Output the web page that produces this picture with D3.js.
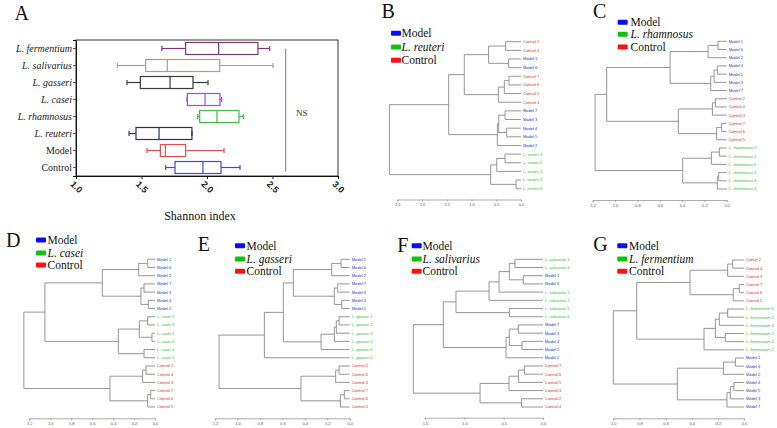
<!DOCTYPE html>
<html><head><meta charset="utf-8">
<script src="https://cdn.jsdelivr.net/npm/d3@7"></script>
<style>body{margin:0;background:#fff}svg{display:block}
.serif{font-family:"Liberation Serif","Times New Roman","DejaVu Serif",serif}
.sans{font-family:"Liberation Sans",Arial,"DejaVu Sans",sans-serif}
</style>
</head><body>
<svg id="c" width="777" height="428"></svg>
<script>
// ---------- Panel A data ----------
const boxCats = ["L. fermentium","L. salivarius","L. gasseri","L. casei","L. rhamnosus","L. reuteri","Model","Control"];
const boxLo  = [1.656,1.316,1.389,1.847,1.929,1.405,1.542,1.684];
const boxQ1  = [1.837,1.532,1.491,1.850,1.944,1.458,1.644,1.756];
const boxMed = [2.089,1.697,1.718,1.985,2.076,1.634,1.682,1.969];
const boxQ3  = [2.389,2.097,1.893,2.099,2.244,1.885,1.837,2.107];
const boxHi  = [2.478,2.504,2.008,2.112,2.277,1.885,2.130,2.252];
const xTicksA = [1.0,1.5,2.0,2.5,3.0];

// ---------- Dendrogram data: [height, child, child] ; leaves are strings ----------
const treeB = [2.66,
  [1.462,
    [1.146,
      [0.654,[0.31,"Control 2","Control 4"],[0.25,"Model 1","Model 6"]],
      [0.458,[0.337,[0.243,"Control 7","Control 6"],"Control 5"],"Control 3"]],
    [0.478,[0.45,[0.323,"Model 7","Model 3"],[0.29,"Model 4","Model 5"]],"Model 2"]],
  [0.613,[0.49,[0.323,"L. reuteri 4","L. reuteri 2"],"L. reuteri 1"],[0.10,"L. reuteri 5","L. reuteri 6"]]];
const treeC = [1.179,
  [1.075,
    [0.507,[0.167,[0.078,"Model 1","Model 6"],"Model 2"],[0.143,[0.113,[0.084,"Model 4","Model 5"],"Model 3"],"Model 7"]],
    [0.433,[0.128,[0.101,"Control 2","Control 4"],"Control 3"],[0.09,[0.045,"Control 7","Control 6"],"Control 5"]]],
  [0.394,[0.137,[0.066,"L. rhamnosus 2","L. rhamnosus 1"],"L. rhamnosus 6"],[0.084,[0.072,"L. rhamnosus 5","L. rhamnosus 4"],"L. rhamnosus 3"]]];
const treeD = [1.252,
  [1.051,
    [0.503,[0.156,[0.07,"Model 1","Model 6"],"Model 2"],[0.134,[0.105,"Model 7","Model 3"],[0.064,"Model 4","Model 5"]]],
    [0.35,[0.15,[0.07,"L. casei 2","L. casei 3"],[0.029,"L. casei 1","L. casei 6"]],[0.105,"L. casei 4","L. casei 5"]]],
  [0.43,[0.118,[0.086,"Control 2","Control 4"],"Control 3"],[0.07,[0.041,"Control 7","Control 6"],"Control 5"]]];
const treeE = [1.164,
  [0.76,
    [0.591,
      [0.502,[0.16,[0.077,"Model 1","Model 6"],"Model 2"],[0.137,[0.107,"Model 7","Model 3"],[0.071,"Model 4","Model 5"]]],
      [0.255,[0.137,[0.119,[0.095,"L. gasseri 1","L. gasseri 2"],"L. gasseri 3"],"L. gasseri 4"],"L. gasseri 6"]],
    "L. gasseri 5"],
  [0.434,[0.125,[0.095,"Control 2","Control 4"],"Control 3"],[0.083,[0.048,"Control 7","Control 6"],"Control 5"]]];
const treeF = [1.648,
  [1.267,
    [1.106,
      [0.686,[0.559,[0.428,[0.356,"L. salivarius 3","L. salivarius 4"],[0.25,"Model 1","Model 6"]],"L. salivarius 1"],"L. salivarius 2"],
      [0.428,"L. salivarius 5","L. salivarius 6"]],
    [0.47,[0.428,[0.314,"Model 7","Model 3"],[0.267,"Model 4","Model 5"]],"Model 2"]],
  [0.80,[0.432,[0.314,[0.237,"Control 7","Control 6"],"Control 5"],"Control 3"],[0.275,"Control 2","Control 4"]]];
const treeG = [1.0,
  [0.821,
    [0.413,[0.125,[0.087,"Contol 2","Control 4"],"Control 3"],[0.082,[0.036,"Control 7","Control 6"],"Control 5"]],
    [0.306,[0.219,[0.189,[0.125,"L. fermentium 6","L. fermentium 5"],"L. fermentium 3"],[0.143,"L. fermentium 2","L. fermentium 4"]],"L. fermentium 1"]],
  [0.51,[0.158,[0.066,"Model 1","Model 6"],"Model 2"],[0.13,[0.105,[0.077,"Model 4","Model 5"],"Model 3"],"Model 7"]]];

const ticksB = [2.5,2.0,1.5,1.0,0.5,0.0];
const ticksC = [1.2,1.0,0.8,0.6,0.4,0.2,0.0];
const ticksD = [1.2,1.0,0.8,0.6,0.4,0.2,0.0];
const ticksE = [1.2,1.0,0.8,0.6,0.4,0.2,0.0];
const ticksF = [1.5,1.0,0.5,0.0];
const ticksG = [1.0,0.8,0.6,0.4,0.2,0.0];

const legendB = ["Model","L. reuteri","Control"];
const legendC = ["Model","L. rhamnosus","Control"];
const legendD = ["Model","L. casei","Control"];
const legendE = ["Model","L. gasseri","Control"];
const legendF = ["Model","L. salivarius","Control"];
const legendG = ["Model","L. fermentium","Control"];

// ---------- styles ----------
const boxColors = ["#7b3a6f","#b99b78","#3a3a3a","#b040e0","#3fc040","#2b2b86","#e05050","#4646d6"];
const grpColor = {Model:"#2a2ae6", L:"#2fc22f", Control:"#e62a2a"};
const swColor = ["#0a0aff","#10c010","#ff1010"];

const svg = d3.select("#c");
svg.append("rect").attr("width",777).attr("height",428).attr("fill","#fff");

// ---------- Panel A ----------
(function(){
  const g = svg.append("g");
  const x = d3.scaleLinear().domain([1,3]).range([76,338]);
  const y = d3.scaleBand().domain(boxCats).range([40,176]);
  const bh = 12;
  g.append("rect").attr("x",x(1)).attr("y",40).attr("width",x(3)-x(1)).attr("height",136)
    .attr("fill","none").attr("stroke","#333").attr("stroke-width",1);
  const ax = d3.axisBottom(x).tickValues(xTicksA).tickSize(3).tickFormat(d3.format(".1f"));
  const axg = g.append("g").attr("transform","translate(0,176)").call(ax);
  axg.attr("font-family",null);
  axg.select(".domain").attr("stroke","#111");
  axg.selectAll(".tick line").attr("stroke","#111");
  axg.selectAll(".tick text").attr("class","sans").attr("font-weight","bold").attr("font-size",9)
    .attr("fill","#222").attr("text-anchor","middle").attr("y",0).attr("dy","0.35em")
    .attr("transform","translate(0,11) rotate(45)");
  const ay = d3.axisLeft(y).tickSize(3).tickPadding(1);
  const ayg = g.append("g").attr("transform",`translate(${x(1)},0)`).call(ay);
  ayg.attr("font-family",null);
  ayg.select(".domain").attr("stroke","#111");
  ayg.selectAll(".tick line").attr("stroke","#555");
  ayg.selectAll(".tick text").attr("class","serif").attr("font-size",10).attr("fill","#222")
    .attr("font-style",d=>d.startsWith("L.")?"italic":"normal");
  boxCats.forEach((c,i)=>{
    const cy = y(c)+y.bandwidth()/2, col = boxColors[i];
    const bg = g.append("g").attr("stroke",col).attr("stroke-width",1.2).attr("fill","none");
    bg.append("line").attr("x1",x(boxLo[i])).attr("x2",x(boxQ1[i])).attr("y1",cy).attr("y2",cy);
    bg.append("line").attr("x1",x(boxQ3[i])).attr("x2",x(boxHi[i])).attr("y1",cy).attr("y2",cy);
    bg.append("line").attr("x1",x(boxLo[i])).attr("x2",x(boxLo[i])).attr("y1",cy-2.5).attr("y2",cy+2.5);
    bg.append("line").attr("x1",x(boxHi[i])).attr("x2",x(boxHi[i])).attr("y1",cy-2.5).attr("y2",cy+2.5);
    bg.append("rect").attr("x",x(boxQ1[i])).attr("y",cy-bh/2).attr("width",x(boxQ3[i])-x(boxQ1[i])).attr("height",bh);
    bg.append("line").attr("x1",x(boxMed[i])).attr("x2",x(boxMed[i])).attr("y1",cy-bh/2).attr("y2",cy+bh/2);
  });
  g.append("line").attr("x1",285.7).attr("x2",285.7).attr("y1",48.7).attr("y2",171.7).attr("stroke","#777").attr("stroke-width",1);
  g.append("text").attr("class","serif").attr("x",301.7).attr("y",116).attr("text-anchor","middle")
    .attr("font-size",9).attr("fill","#333").text("NS");
  g.append("text").attr("class","serif").attr("x",200).attr("y",220).attr("text-anchor","middle")
    .attr("font-size",12).attr("fill","#111").text("Shannon index");
  g.append("text").attr("class","serif").attr("x",14.5).attr("y",20).attr("font-size",20).attr("fill","#111").text("A");
})();

// ---------- dendrogram helper ----------
function toObj(n){ return typeof n === "string" ? {name:n,h:0} : {h:n[0],children:n.slice(1).map(toObj)}; }
function dendro(tree, ticks, legend, o){
  const g = svg.append("g");
  const root = d3.hierarchy(toObj(tree));
  const leaves = root.leaves();
  const x = d3.scaleLinear().domain([0,o.hMax]).range([o.x0,o.x1]);
  const y = d3.scalePoint().domain(d3.range(leaves.length)).range([o.yTop,o.yBot]);
  leaves.forEach((d,i)=>{ d.py = y(i); });
  root.eachAfter(d=>{ if(d.children) d.py = (d.children[0].py + d.children[d.children.length-1].py)/2; });
  const lg = g.append("g").attr("stroke","#8a8a8a").attr("stroke-width",0.9).attr("fill","none");
  root.each(d=>{
    if(!d.children) return;
    const px = x(d.data.h);
    lg.append("line").attr("x1",px).attr("x2",px).attr("y1",d.children[0].py).attr("y2",d.children[d.children.length-1].py);
    d.children.forEach(c=>{
      lg.append("line").attr("x1",px).attr("x2",x(c.data.h)).attr("y1",c.py).attr("y2",c.py);
    });
  });
  g.selectAll("text.leaf").data(leaves).join("text").attr("class","leaf sans")
    .attr("x",x(0)+2).attr("y",d=>d.py).attr("dy","0.35em").attr("font-size",4)
    .attr("fill",d=>{const n=d.data.name; return n.startsWith("Model")?grpColor.Model:n.startsWith("L.")?grpColor.L:grpColor.Control;})
    .text(d=>d.data.name);
  const ax = d3.axisBottom(x).tickValues(ticks).tickSize(2).tickPadding(2).tickFormat(d3.format(".1f"));
  const axg = g.append("g").attr("transform",`translate(0,${o.axisY})`).call(ax);
  axg.attr("font-family",null);
  axg.select(".domain").attr("stroke","#999").attr("stroke-width",0.8);
  axg.selectAll(".tick line").attr("stroke","#999").attr("stroke-width",0.8);
  axg.selectAll(".tick text").attr("class","sans").attr("font-size",4).attr("fill","#555");
  g.append("text").attr("class","serif").attr("x",o.lx).attr("y",o.ly).attr("font-size",20).attr("fill","#111").text(o.letter);
  legend.forEach((t,i)=>{
    const cy = o.legY[i];
    g.append("rect").attr("x",o.swX).attr("y",cy-2.5).attr("width",10).attr("height",5).attr("rx",1).attr("fill",swColor[i]);
    g.append("text").attr("class","serif").attr("x",o.txX).attr("y",cy+4).attr("font-size",11.5)
      .attr("font-style",t.startsWith("L.")?"italic":"normal").attr("fill","#111").text(t);
  });
}

dendro(treeB, ticksB, legendB, {hMax:2.5,x0:521,x1:397.3,yTop:41.7,yBot:188.7,axisY:199.5,
  letter:"B",lx:381.5,ly:18.3,swX:391,txX:401.5,legY:[33.3,47,60.3]});
dendro(treeC, ticksC, legendC, {hMax:1.2,x0:726.7,x1:592.7,yTop:41.3,yBot:189,axisY:200,
  letter:"C",lx:593,ly:18.3,swX:617.7,txX:630.5,legY:[22.3,34.3,47]});
dendro(treeD, ticksD, legendD, {hMax:1.2,x0:155,x1:29.3,yTop:259.3,yBot:407,axisY:418.3,
  letter:"D",lx:6,ly:247.3,swX:36,txX:47.5,legY:[240,253,265]});
dendro(treeE, ticksE, legendE, {hMax:1.2,x0:349.7,x1:215,yTop:259.3,yBot:407,axisY:418.3,
  letter:"E",lx:197.7,ly:250.7,swX:235,txX:246.5,legY:[245.7,259,271.3]});
dendro(treeF, ticksF, legendF, {hMax:1.5,x0:543,x1:425,yTop:259.3,yBot:407,axisY:417.7,
  letter:"F",lx:397.3,ly:252.3,swX:411.7,txX:422.5,legY:[245.7,259,271.3]});
dendro(treeG, ticksG, legendG, {hMax:1.0,x0:744,x1:613.3,yTop:260,yBot:407,axisY:418.3,
  letter:"G",lx:593.3,ly:250.7,swX:617.3,txX:629,legY:[245.7,259,271.3]});
</script>
</body></html>
